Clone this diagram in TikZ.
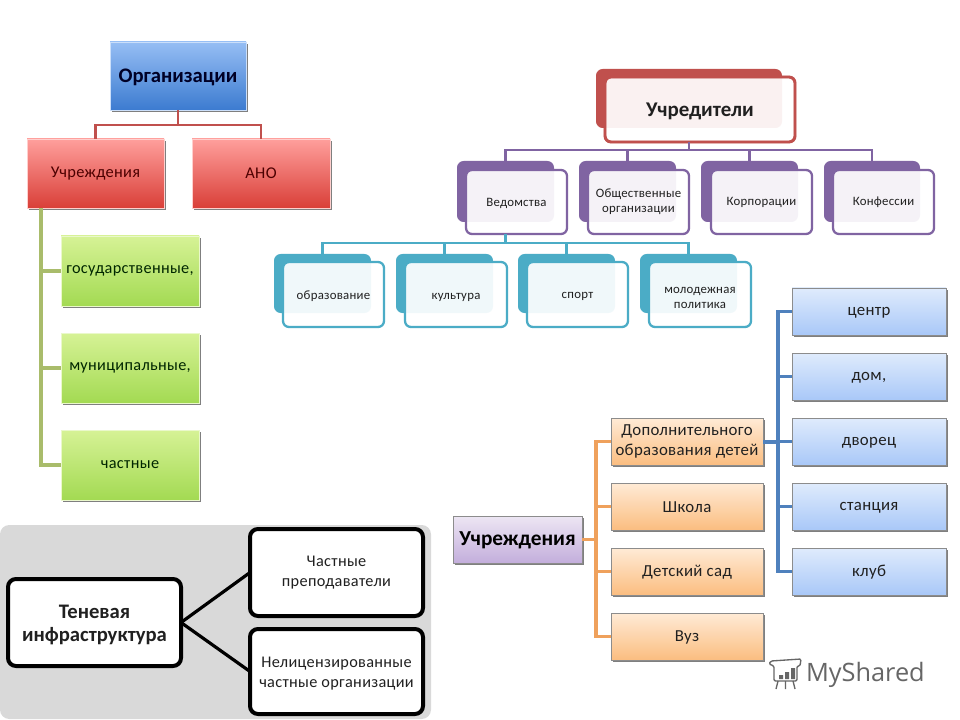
\documentclass[tikz,border=0pt]{standalone}
\usepackage{fontspec}
\setmainfont{Carlito}
\newfontfamily\spaced[LetterSpace=2]{Carlito}
\newfontfamily\logofont{Open Sans}
\usetikzlibrary{shadows,calc}
\definecolor{cRed}{HTML}{C0504D}
\definecolor{cPur}{HTML}{8064A2}
\definecolor{cTeal}{HTML}{4BACC6}
\definecolor{cGrn}{HTML}{A9BC6B}
\definecolor{cOr}{HTML}{EFA15C}
\definecolor{cBlu}{HTML}{4F81BD}
\definecolor{cTxt}{HTML}{202020}
\definecolor{HTMLa}{HTML}{3C7BD0}\definecolor{HTMLb}{HTML}{96BEF4}
\definecolor{HTMLc}{HTML}{D93F38}\definecolor{HTMLd}{HTML}{FF9F9C}
\definecolor{HTMLe}{HTML}{A3DA52}\definecolor{HTMLf}{HTML}{D6F296}
\definecolor{HTMLg}{HTML}{FBBD80}\definecolor{HTMLh}{HTML}{FFEBD6}
\definecolor{HTMLi}{HTML}{A9C8F8}\definecolor{HTMLj}{HTML}{DFEBFC}
\definecolor{HTMLk}{HTML}{C3AEDC}\definecolor{HTMLl}{HTML}{EDE6F3}
\tikzset{
  x=0.75pt,y=-0.75pt,
  box/.style={inner sep=0pt,outer sep=0pt,align=center,text=cTxt},
  sh/.style={general shadow={shadow xshift=1.2pt,shadow yshift=-1.4pt,fill=black,opacity=.5}},
  glblue/.style={box,sh,top color=HTMLb,bottom color=HTMLa,draw=HTMLb!50!white,line width=.7pt,font=\fontsize{15.5}{18}\selectfont\bfseries,text=black!85!blue},
  glred/.style={box,sh,top color=HTMLd,bottom color=HTMLc,draw=HTMLd!50!white,line width=.7pt,font=\spaced\fontsize{12.3}{15}\selectfont,text=black!70!red},
  glgrn/.style={box,sh,top color=HTMLf,bottom color=HTMLe,draw=HTMLf!50!white,line width=.7pt,font=\spaced\fontsize{12.2}{15}\selectfont,text=black!85!green},
  orbox/.style={box,sh,top color=HTMLh,bottom color=HTMLg,draw=black!45,line width=.4pt,font=\spaced\fontsize{12.6}{14.5}\selectfont},
  blbox/.style={box,sh,top color=HTMLj,bottom color=HTMLi,draw=black!45,line width=.4pt,font=\spaced\fontsize{12.6}{14.5}\selectfont},
  plbox/.style={box,sh,top color=HTMLl,bottom color=HTMLk,draw=black!45,line width=.4pt,font=\fontsize{16}{19}\selectfont\bfseries,text=black},
  backbox/.style={box,rounded corners=5pt,fill=#1},
  frontbox/.style={box,rounded corners=4.5pt,draw=#1,line width=1.7pt,fill=white,fill opacity=.92,text opacity=1},
  blk/.style={box,rounded corners=6pt,draw=black,line width=3pt,fill=white},
  conn/.style={draw=#1,line width=2pt},
}
% name, x1,y1,x2,y2, style, text
\newcommand{\bx}[7]{%
  \pgfmathsetmacro{\bw}{(#4-#2)*0.75}\pgfmathsetmacro{\bh}{(#5-#3)*0.75}%
  \node[#6,minimum width=\bw pt,minimum height=\bh pt] (#1) at ({(#2+#4)/2},{(#3+#5)/2}) {#7};}
% name, back x1,y1,x2,y2, front x1,y1,x2,y2, colour, font, text
\newcommand{\dbl}[9]{\def\dblname{#1}\def\dbla{#2}\def\dblb{#3}\def\dblc{#4}\def\dbld{#5}\def\dble{#6}\def\dblf{#7}\def\dblg{#8}\def\dblh{#9}\dblcont}
\newcommand{\dblcont}[3]{%
  \bx{\dblname b}{\dbla}{\dblb}{\dblc}{\dbld}{backbox=#1}{}%
  \bx{\dblname}{\dble}{\dblf}{\dblg}{\dblh}{frontbox=#1,font=#2}{#3}}
\newcommand{\smf}{\spaced\fontsize{9.6}{11.3}\selectfont}
\newcommand{\dn}[1]{\rule{0pt}{#1pt}}
\begin{document}
\begin{tikzpicture}
\useasboundingbox (0,0) rectangle (960,720);
\fill[white] (0,0) rectangle (960,720);
% top left
\bx{org}{110}{42}{246}{110}{glblue}{\dn{12}Организации}
\bx{uch}{27}{139}{164}{208}{glred}{Учреждения}
\bx{ano}{192}{139}{330}{208}{glred}{АНО}
\bx{gos}{61}{236}{199}{306}{glgrn}{государственные,}
\bx{mun}{61}{333}{199}{403}{glgrn}{муниципальные,}
\bx{cha}{61}{430}{199}{500}{glgrn}{частные}
\coordinate (j1) at (178,125);
\draw[conn=cRed] (org.south) -- (j1);
\draw[conn=cRed] (uch.north) |- (j1) -| (ano.north);
\coordinate (j2) at (41,208);
\draw[conn=cGrn,line width=2.6pt] (j2) |- (gos.west);
\draw[conn=cGrn,line width=2.6pt] (j2) |- (mun.west);
\draw[conn=cGrn,line width=2.6pt] (j2) |- (cha.west);
% founders
\dbl{uchr}{596}{69}{782}{128}{605}{77}{795}{142}{cRed}{\fontsize{15.7}{19}\selectfont\bfseries}{\dn{12.5}Учредители}
\dbl{ved}{457}{161}{554}{222}{466}{170}{567}{234}{cPur}{\smf}{\dn{8.5}Ведомства}
\dbl{obs}{579}{161}{676}{222}{588}{170}{689}{234}{cPur}{\smf}{Общественные\\организации}
\dbl{kor}{701}{161}{798}{222}{711}{170}{812}{234}{cPur}{\smf}{Корпорации}
\dbl{kon}{824}{161}{920}{222}{833}{170}{934}{234}{cPur}{\smf}{Конфессии}
\draw[line width=2.2pt,draw=cRed,rounded corners=4.5pt] (uchr.south west) rectangle (uchr.north east);
\coordinate (j3) at ($(uchrb.south)+(0,22)$);
\draw[conn=cPur] (j3) -- (j3 |- uchr.south);
\foreach \n in {ved,obs,kor,kon}{
  \draw[conn=cPur] (j3) -| (\n b.north);}
\dbl{obr}{274}{254}{371}{313}{283}{262}{384}{327}{cTeal}{\smf}{\dn{9.5}образование}
\dbl{kul}{396}{254}{493}{313}{405}{262}{507}{327}{cTeal}{\smf}{\dn{9}культура}
\dbl{spo}{518}{254}{615}{313}{527}{262}{628}{327}{cTeal}{\smf}{\dn{8}спорт}
\dbl{mol}{640}{254}{737}{313}{649}{262}{751}{327}{cTeal}{\smf}{\dn{9.5}молодежная\\политика}
\coordinate (j4) at ($(vedb.south)+(0,21)$);
\draw[conn=cTeal] (j4) -- (j4 |- ved.south);
\foreach \n in {obr,kul,spo,mol}{
  \draw[conn=cTeal] (j4) -| (\n b.north);}
% institutions
\bx{inst}{453}{516}{582}{563}{plbox}{\dn{12}Учреждения}
\bx{dop}{611}{418}{763}{465}{orbox}{Дополнительного\\образования детей}
\bx{shk}{611}{483}{763}{530}{orbox}{\dn{9.5}Школа}
\bx{sad}{611}{548}{763}{595}{orbox}{\dn{9.5}Детский сад}
\bx{vuz}{611}{613}{763}{660}{orbox}{\dn{9.5}Вуз}
\bx{cen}{792}{288}{946}{335}{blbox}{\dn{8.5}центр}
\bx{dom}{792}{353}{946}{400}{blbox}{\dn{8.5}дом,}
\bx{dvo}{792}{418}{946}{465}{blbox}{\dn{8.5}дворец}
\bx{sta}{792}{483}{946}{530}{blbox}{\dn{8.5}станция}
\bx{klu}{792}{548}{946}{595}{blbox}{\dn{9.5}клуб}
\coordinate (j5) at (596,539.5);
\draw[conn=cOr,line width=2.4pt] (inst.east) -- (j5);
\foreach \n in {dop,shk,sad,vuz}{\draw[conn=cOr,line width=2.4pt] (j5) |- (\n.west);}
\coordinate (j6) at (778,441.5);
\draw[conn=cBlu,line width=3pt] (dop.east) -- (j6);
\foreach \n in {cen,dom,dvo,sta,klu}{\draw[conn=cBlu,line width=2.4pt] (j6) |- (\n.west);}
% shadow infrastructure
\fill[black!15,rounded corners=7pt] (0,525) rectangle (431,719);
\bx{ten}{8}{579}{181}{666}{blk,font=\fontsize{15.5}{17.3}\selectfont\bfseries}{\dn{14}Теневая\\инфраструктура}
\bx{pre}{250}{529}{423}{616}{blk,font=\spaced\fontsize{12.2}{14.5}\selectfont}{Частные\\преподаватели}
\bx{nel}{250}{629}{423}{714}{blk,font=\spaced\fontsize{12.2}{15}\selectfont}{\dn{10.5}Нелицензированные\\частные организации}
\draw[black,line width=2.4pt] (ten.east) -- (pre.west);
\draw[black,line width=2.4pt] (ten.east) -- (nel.west);
% watermark
\node[box,text=black!60,font=\logofont\fontsize{19}{24}\selectfont,anchor=west] (logo) at (806,675) {MyShared};
\begin{scope}[draw=black!60,line width=1pt]
  \draw[rounded corners=1pt] (771,661) -- (801,659) -- (800,666) -- (797,666) -- (797,681) -- (774,681) -- (774,666) -- (769,664) -- cycle;
  \fill[black!60] (779,675) rectangle (783,679) (785,672) rectangle (789,679) (791,668) rectangle (795,679);
  \draw (778,681) -- (776,689) (793,681) -- (795,689) (785.5,681) -- (785.5,689);
\end{scope}
\end{tikzpicture}
\end{document}
